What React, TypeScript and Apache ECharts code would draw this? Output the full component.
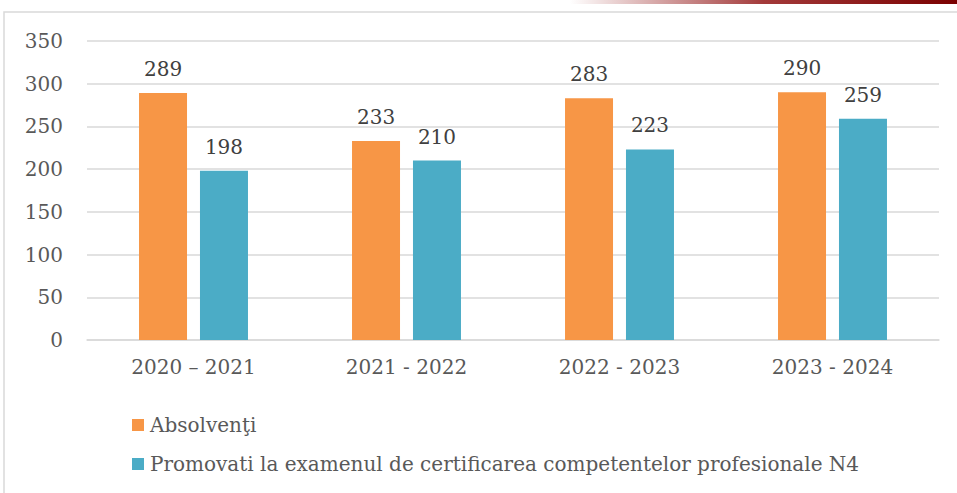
import React, { useEffect, useRef } from "react";
import * as echarts from "echarts";

const categories = ["2020 – 2021", "2021 - 2022", "2022 - 2023", "2023 - 2024"];
const absolventi = [289, 233, 283, 290];
const promovati = [198, 210, 223, 259];
const seriesNames = [
  "Absolvenţi",
  "Promovati la examenul de certificarea competentelor profesionale N4",
];
const FONT = "DejaVu Serif";

export default function App() {
  const ref = useRef<HTMLDivElement>(null);
  useEffect(() => {
    document.body.style.margin = "0";
    const chart = echarts.init(ref.current!, null, { renderer: "svg" });
    chart.setOption({
      animation: false,
      backgroundColor: "#ffffff",
      textStyle: { fontFamily: FONT },
      graphic: [
        {
          type: "rect",
          shape: { x: 4, y: 12, width: 1100, height: 1000 },
          style: { fill: "none", stroke: "#d9d9d9", lineWidth: 1.5 },
          silent: true,
        },
        {
          type: "rect",
          shape: { x: 570, y: 0, width: 387, height: 4 },
          style: {
            fill: new echarts.graphic.LinearGradient(0, 0, 1, 0, [
              { offset: 0, color: "rgba(255,255,255,1)" },
              { offset: 0.5, color: "#a33a3a" },
              { offset: 1, color: "#7a0000" },
            ]),
          },
          silent: true,
        },
      ],
      grid: { left: 87, right: 18, top: 41, bottom: 153, containLabel: false },
      legend: {
        orient: "vertical",
        left: 127,
        top: 410,
        itemWidth: 12,
        itemHeight: 12,
        itemGap: 19,
        icon: "rect",
        textStyle: { fontFamily: FONT, fontSize: 20, color: "#595959", padding: [0, 0, 0, 1] },
        data: seriesNames,
      },
      xAxis: {
        type: "category",
        data: categories,
        axisLine: { lineStyle: { color: "#d9d9d9", width: 1.5 } },
        axisTick: { show: false },
        axisLabel: { fontFamily: FONT, fontSize: 20, color: "#595959", margin: 17 },
      },
      yAxis: {
        type: "value",
        min: 0,
        max: 350,
        interval: 50,
        axisLine: { show: false },
        axisTick: { show: false },
        splitLine: { lineStyle: { color: "#d9d9d9", width: 1.5 } },
        axisLabel: { fontFamily: FONT, fontSize: 20, color: "#595959", margin: 24 },
      },
      series: [
        {
          name: seriesNames[0],
          type: "bar",
          data: absolventi,
          barWidth: 48,
          barGap: "27%",
          itemStyle: { color: "#f79646" },
          label: { show: true, position: "top", distance: 14, fontFamily: FONT, fontSize: 20, color: "#404040" },
        },
        {
          name: seriesNames[1],
          type: "bar",
          data: promovati,
          barWidth: 48,
          barGap: "27%",
          itemStyle: { color: "#4bacc6" },
          label: { show: true, position: "top", distance: 14, fontFamily: FONT, fontSize: 20, color: "#404040" },
        },
      ],
    });
    return () => chart.dispose();
  }, []);
  return <div ref={ref} style={{ width: 957, height: 493 }} />;
}
